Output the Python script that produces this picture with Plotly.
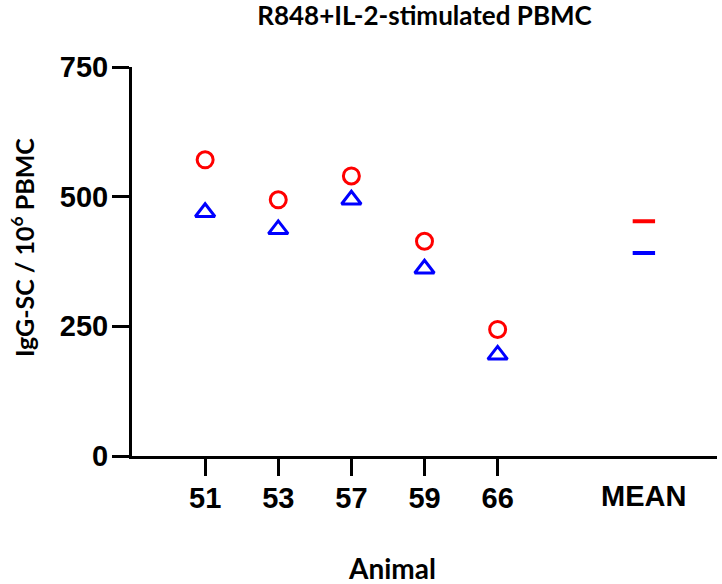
import numpy as np
import plotly.graph_objects as go

animals = ["51", "53", "57", "59", "66"]
series_red = [571, 494, 540, 414, 244]    # circles
series_blue = [470, 437, 494, 361, 195]   # triangles
mean_label = "MEAN"
y_ticks = [0, 250, 500, 750]

x_pos = list(range(len(animals)))
mean_pos = len(animals) + 1
red_mean = float(np.mean(series_red))
blue_mean = float(np.mean(series_blue))

tick_font = dict(family="Liberation Sans, Arial, sans-serif", size=29, color="black", weight="bold")
title_font = dict(family="Lato, sans-serif", color="black", weight="bold")

fig = go.Figure()
fig.add_trace(go.Scatter(
    x=x_pos, y=series_red, mode="markers", cliponaxis=False,
    marker=dict(symbol="circle-open", size=16, color="#FF0000", line=dict(width=3, color="#FF0000")),
    showlegend=False))
fig.add_trace(go.Scatter(
    x=x_pos, y=series_blue, mode="markers", cliponaxis=False,
    marker=dict(symbol="triangle-up-open", size=17, color="#0000FF", line=dict(width=3, color="#0000FF")),
    showlegend=False))
fig.add_trace(go.Scatter(
    x=[mean_pos], y=[red_mean], mode="markers", cliponaxis=False,
    marker=dict(symbol="line-ew", size=16, color="#FF0000", line=dict(width=4, color="#FF0000")),
    showlegend=False))
fig.add_trace(go.Scatter(
    x=[mean_pos], y=[blue_mean], mode="markers", cliponaxis=False,
    marker=dict(symbol="line-ew", size=16, color="#0000FF", line=dict(width=4, color="#0000FF")),
    showlegend=False))

fig.update_layout(
    width=722, height=584,
    margin=dict(l=132, r=5, t=67, b=128),
    paper_bgcolor="white", plot_bgcolor="white",
    title=dict(text="R848+IL-2-stimulated PBMC", x=0.5, xref="paper",
               y=1 - 16 / 584, yref="container", yanchor="middle",
               font=dict(size=26, **title_font)),
    xaxis=dict(range=[-1, 7], showgrid=False, zeroline=False,
               showline=True, linewidth=3, linecolor="black",
               tickmode="array", tickvals=x_pos, ticktext=animals,
               ticks="outside", ticklen=17, tickwidth=3, tickcolor="black",
               tickfont=tick_font, ticklabelstandoff=-3),
    yaxis=dict(range=[0, 750], showgrid=False, zeroline=False,
               showline=True, linewidth=3, linecolor="black",
               tickmode="array", tickvals=y_ticks,
               ticks="outside", ticklen=17, tickwidth=3, tickcolor="black",
               tickfont=tick_font, ticklabelstandoff=-2),
    annotations=[
        dict(text=mean_label, x=mean_pos, xref="x", y=0, yref="y",
             yshift=-40, xanchor="center", yanchor="middle",
             showarrow=False, font=tick_font),
        dict(text="Animal", x=(392 - 132) / 585, xref="paper",
             y=-112 / 389, yref="paper", xanchor="center", yanchor="middle",
             showarrow=False, font=dict(size=28, **title_font)),
        dict(text="IgG-SC / 10<sup>6</sup> PBMC", x=(22 - 132) / 585, xref="paper",
             y=(456 - 248) / 389, yref="paper", xanchor="center", yanchor="middle",
             textangle=-90, showarrow=False, font=dict(size=25, **title_font)),
    ],
)

fig.write_html("out.html", config={"displayModeBar": False},
               post_script="document.body.style.margin='0';")
